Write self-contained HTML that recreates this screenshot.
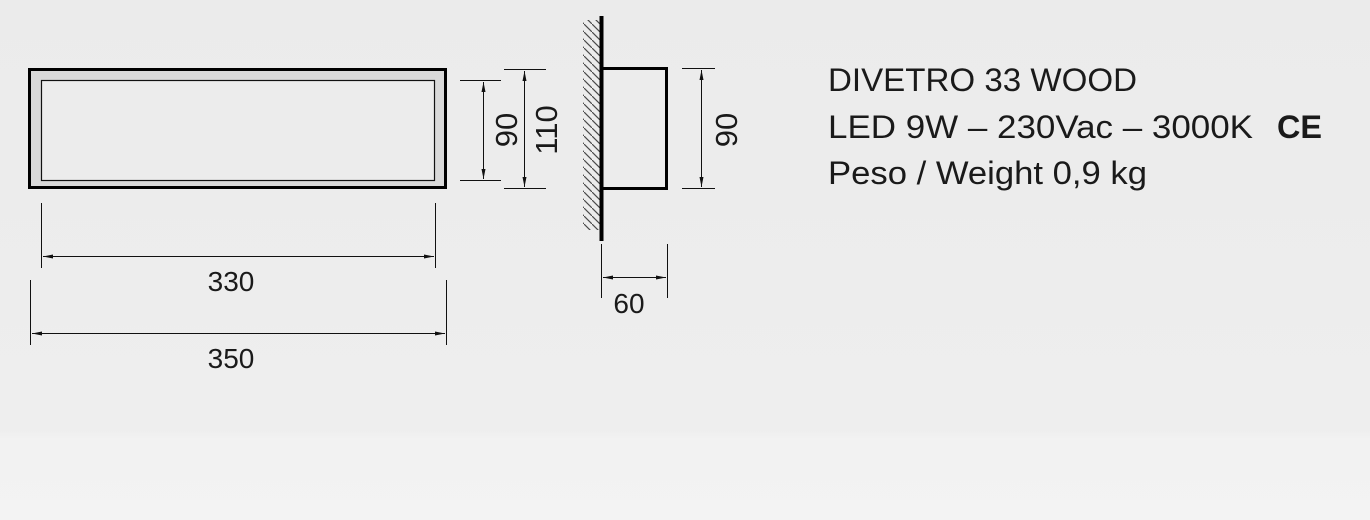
<!DOCTYPE html>
<html><head><meta charset="utf-8"><style>
html,body{margin:0;padding:0;}
body{width:1370px;height:520px;overflow:hidden;background:linear-gradient(#ebebeb,#eeeeee 430px,#f2f2f2 440px,#f3f3f3);}
svg{display:block;}
text{font-family:"Liberation Sans","DejaVu Sans",sans-serif;fill:#1a1a1a;}
</style></head><body>
<svg width="1370" height="520" viewBox="0 0 1370 520" xmlns="http://www.w3.org/2000/svg">
<defs>
<marker id="a" viewBox="0 0 10 4" refX="10" refY="2" markerWidth="10" markerHeight="4" markerUnits="userSpaceOnUse" orient="auto-start-reverse"><path d="M0,0L10,2L0,4z" fill="#111"/></marker>
<pattern id="h" width="8" height="8" patternUnits="userSpaceOnUse"><path d="M-1,-1L9,9" stroke="#222" stroke-width="1.2"/></pattern>
</defs>
<rect x="29.5" y="69.5" width="416" height="118" fill="#d9d9d9" stroke="#000" stroke-width="3"/>
<rect x="41.5" y="80.5" width="393" height="100" fill="#ececec" stroke="#111" stroke-width="1.2"/>
<g stroke="#111" stroke-width="1" fill="none">
<line x1="460" y1="80.5" x2="501" y2="80.5"/><line x1="460" y1="180.5" x2="501" y2="180.5"/>
<line x1="483.5" y1="82" x2="483.5" y2="179" marker-start="url(#a)" marker-end="url(#a)"/>
<line x1="504" y1="69.5" x2="546" y2="69.5"/><line x1="504" y1="188.5" x2="546" y2="188.5"/>
<line x1="524.5" y1="71" x2="524.5" y2="187" marker-start="url(#a)" marker-end="url(#a)"/>
<line x1="41.5" y1="203" x2="41.5" y2="268"/><line x1="435.5" y1="203" x2="435.5" y2="268"/>
<line x1="43" y1="256.5" x2="434" y2="256.5" marker-start="url(#a)" marker-end="url(#a)"/>
<line x1="30.5" y1="280" x2="30.5" y2="345"/><line x1="446.5" y1="280" x2="446.5" y2="345"/>
<line x1="32" y1="333.5" x2="445" y2="333.5" marker-start="url(#a)" marker-end="url(#a)"/>
<line x1="682" y1="68.5" x2="715" y2="68.5"/><line x1="682" y1="188.5" x2="715" y2="188.5"/>
<line x1="701.5" y1="70" x2="701.5" y2="187" marker-start="url(#a)" marker-end="url(#a)"/>
<line x1="601.5" y1="244" x2="601.5" y2="298"/><line x1="667.5" y1="244" x2="667.5" y2="298"/>
<line x1="603" y1="277.5" x2="666" y2="277.5" marker-start="url(#a)" marker-end="url(#a)"/>
</g>
<text x="231" y="291" font-size="28" text-anchor="middle">330</text>
<text x="231" y="368" font-size="28" text-anchor="middle">350</text>
<text transform="translate(517,130) rotate(-90)" font-size="31" text-anchor="middle">90</text>
<text transform="translate(557,130) rotate(-90)" font-size="31" text-anchor="middle">110</text>
<text transform="translate(737,130) rotate(-90)" font-size="31" text-anchor="middle">90</text>
<text x="629" y="313" font-size="28" text-anchor="middle">60</text>
<rect x="583" y="20" width="17" height="210" fill="url(#h)" opacity="0.8"/>
<line x1="601.5" y1="16" x2="601.5" y2="241" stroke="#000" stroke-width="4"/>
<polyline points="601,68.5 666.5,68.5 666.5,188.5 601,188.5" fill="none" stroke="#000" stroke-width="3"/>
<text x="828" y="91" font-size="32" textLength="309" lengthAdjust="spacingAndGlyphs">DIVETRO 33 WOOD</text>
<text x="828" y="138" font-size="32" textLength="425" lengthAdjust="spacingAndGlyphs">LED 9W – 230Vac – 3000K</text>
<text x="1277" y="138" font-size="32" font-weight="bold" textLength="45" lengthAdjust="spacingAndGlyphs">CE</text>
<text x="828" y="184" font-size="32" textLength="319" lengthAdjust="spacingAndGlyphs">Peso / Weight 0,9 kg</text>
</svg>
</body></html>
